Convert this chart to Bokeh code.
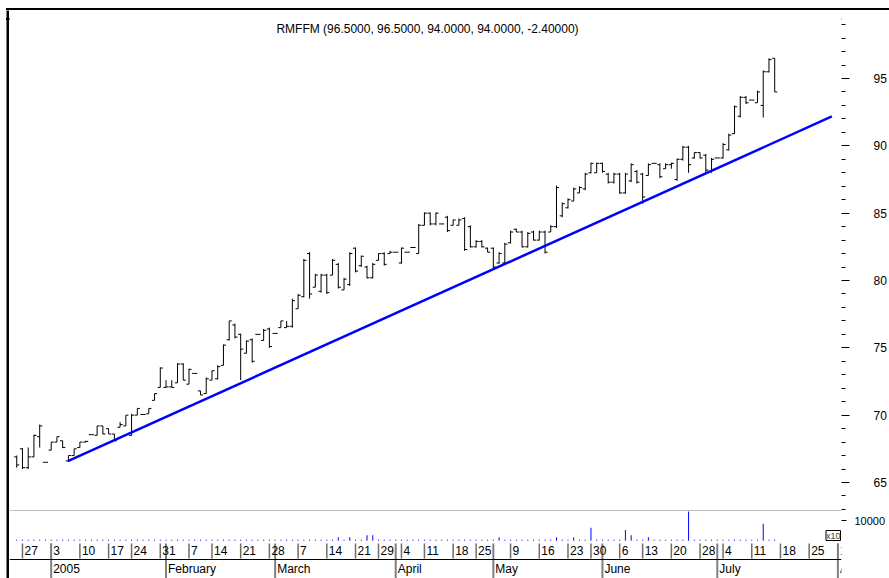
from bokeh.plotting import figure
from bokeh.models import (Range1d, FixedTicker, LinearAxis, Label, Span, ColumnDataSource,
                          Spacer, Div)
from bokeh.layouts import column, row
from bokeh.transform import dodge
from bokeh.core.properties import value
from bokeh.embed import file_html
from bokeh.resources import INLINE

FONT = "Liberation Sans"

# trading-session index (0 = Mon 27 Dec 2004)
session = list(range(-1, 132))

open_ = [66.9, 67.5, 66.1, 66.9, 68.4, 66.5, 67.4, 68.0, 68.1, 66.6,
         67.0, 67.6, 68.0, 68.55, 68.5, 69.2, 69.0, 68.6, 69.1, 69.2,
         68.5, 70.0, 70.05, 70.1, 71.1, 72.06, 72.06, 72.1, 72.4, 73.8,
         72.3, 73.1, 71.8, 71.6, 72.6, 72.7, 73.7, 75.6, 76.7, 76.0,
         74.6, 75.6, 76.0, 75.55, 76.4, 76.07, 76.5, 76.5, 76.6, 77.9,
         78.8, 82.0, 79.5, 79.2, 80.4, 80.4, 81.2, 79.3, 79.7, 82.4,
         81.1, 81.0, 80.2, 81.5, 82.0, 82.0, 82.1, 81.3, 82.1, 82.45,
         82.0, 84.1, 85.0, 84.2, 84.2, 84.7, 84.1, 84.1, 84.6, 84.0,
         82.5, 82.9, 82.4, 82.4, 81.3, 81.3, 82.8, 83.8, 83.6, 82.5,
         83.6, 83.0, 83.6, 83.6, 84.0, 84.8, 85.4, 85.9, 86.5, 86.8,
         88.0, 88.0, 88.7, 87.9, 87.3, 87.9, 86.5, 87.4, 88.1, 87.9,
         87.8, 88.7, 88.6, 88.3, 88.6, 87.5, 89.0, 89.9, 89.1, 89.5,
         89.3, 88.1, 89.1, 89.1, 89.7, 90.9, 92.2, 93.6, 93.4, 93.2,
         93.0, 95.5, 96.5]
high = [67.0, 67.55, 67.6, 68.55, 69.3, 66.5, 68.0, 68.4, 68.1, 67.0,
        67.5, 68.0, 68.1, 68.55, 69.2, 69.2, 69.0, 68.6, 69.5, 70.0,
        70.1, 70.5, 70.05, 70.5, 71.6, 73.55, 72.6, 72.6, 73.85, 73.85,
        73.45, 73.1, 71.8, 72.8, 73.3, 73.7, 75.25, 77.0, 76.8, 76.05,
        75.55, 75.7, 76.0, 76.4, 76.5, 76.07, 77.0, 77.0, 78.65, 79.0,
        81.6, 82.1, 80.5, 80.5, 80.5, 81.6, 81.3, 80.2, 82.1, 82.45,
        81.85, 81.1, 81.3, 82.0, 82.1, 82.2, 82.1, 82.45, 82.1, 82.45,
        84.2, 85.05, 85.05, 85.05, 84.2, 84.8, 84.5, 84.6, 84.7, 84.1,
        83.0, 83.0, 82.45, 82.45, 82.1, 82.8, 83.7, 83.85, 83.7, 83.6,
        83.7, 83.7, 83.7, 84.1, 87.05, 85.8, 86.1, 86.9, 87.0, 88.0,
        88.75, 88.75, 88.75, 88.0, 88.0, 88.0, 88.0, 88.7, 88.2, 88.0,
        88.7, 88.7, 88.7, 88.7, 88.75, 89.06, 90.0, 90.0, 89.5, 89.5,
        89.4, 89.1, 89.1, 90.2, 90.9, 93.0, 93.7, 93.7, 93.4, 94.1,
        95.6, 96.5, 96.5]
low = [66.1, 66.0, 66.0, 66.9, 67.6, 66.5, 67.4, 68.0, 67.55, 66.55,
       67.0, 67.6, 68.0, 68.55, 68.5, 68.6, 68.6, 68.1, 69.1, 69.2,
       68.5, 70.0, 70.05, 70.1, 71.1, 72.06, 72.06, 72.06, 72.4, 72.6,
       72.3, 73.1, 71.5, 71.6, 72.6, 72.65, 73.7, 75.55, 75.7, 72.6,
       74.6, 73.9, 76.0, 75.55, 75.0, 76.07, 76.5, 76.5, 76.5, 77.9,
       78.75, 78.65, 79.5, 79.1, 79.0, 80.4, 79.4, 79.3, 79.6, 80.6,
       81.0, 80.15, 80.15, 81.5, 81.1, 82.0, 82.1, 81.25, 82.1, 82.45,
       82.0, 84.1, 84.1, 84.1, 84.2, 83.6, 84.1, 84.1, 82.2, 82.45,
       82.45, 82.45, 82.1, 80.9, 81.25, 81.25, 82.75, 83.6, 82.45, 82.45,
       82.97, 82.97, 82.0, 83.6, 83.9, 84.7, 85.35, 85.9, 86.5, 86.7,
       87.95, 88.0, 88.0, 87.2, 87.2, 86.45, 86.45, 87.3, 87.2, 85.7,
       87.8, 88.7, 87.6, 88.3, 88.3, 87.4, 88.9, 88.0, 89.06, 89.06,
       88.0, 88.0, 89.1, 89.06, 89.65, 90.9, 92.1, 93.1, 93.4, 93.2,
       92.1, 95.45, 94.0]
close = [66.3, 66.1, 66.9, 68.5, 69.2, 66.5, 68.0, 68.4, 67.6, 67.0,
         67.5, 68.0, 68.05, 68.55, 69.2, 68.6, 68.6, 68.1, 69.3, 70.0,
         70.0, 70.5, 70.05, 70.5, 71.6, 73.5, 72.1, 72.06, 73.8, 72.6,
         73.4, 73.1, 71.5, 72.7, 73.3, 73.6, 75.2, 77.0, 75.8, 74.9,
         75.5, 74.0, 76.0, 76.3, 75.1, 76.07, 77.0, 76.6, 78.5, 78.9,
         81.5, 79.0, 80.4, 80.4, 79.1, 81.5, 79.5, 80.1, 82.0, 80.7,
         81.8, 80.2, 81.2, 82.0, 81.2, 82.1, 82.1, 82.4, 82.1, 82.45,
         84.1, 85.0, 84.2, 85.0, 84.2, 83.7, 84.5, 84.5, 82.3, 82.5,
         82.9, 82.5, 82.1, 81.0, 82.0, 82.7, 83.6, 83.6, 82.5, 83.5,
         83.0, 83.6, 82.1, 84.0, 86.9, 85.7, 86.0, 86.8, 86.9, 87.9,
         88.7, 88.7, 88.1, 87.3, 87.9, 86.5, 87.9, 88.6, 87.3, 86.2,
         88.6, 88.7, 87.7, 88.6, 88.7, 89.0, 89.9, 88.6, 89.5, 89.1,
         88.2, 89.0, 89.1, 90.1, 90.8, 92.9, 93.6, 93.2, 93.4, 94.0,
         95.5, 96.4, 94.0]
volume = [500, 500, 500, 500, 500, 500, 500, 500, 500, 500,
          500, 500, 500, 500, 500, 500, 500, 500, 500, 500,
          500, 500, 500, 500, 500, 500, 500, 500, 500, 500,
          500, 500, 500, 500, 500, 500, 500, 500, 500, 500,
          500, 500, 500, 500, 500, 500, 500, 500, 500, 500,
          500, 500, 500, 500, 500, 500, 1700, 500, 1700, 500,
          500, 2700, 2700, 500, 500, 500, 500, 500, 500, 500,
          500, 500, 500, 500, 500, 500, 500, 500, 500, 500,
          500, 500, 500, 500, 1700, 500, 500, 500, 500, 500,
          500, 500, 500, 500, 1700, 500, 500, 1700, 500, 500,
          6400, 500, 500, 500, 500, 500, 5300, 2700, 500, 500,
          1700, 500, 500, 500, 500, 500, 500, 14500, 500, 500,
          500, 500, 500, 500, 500, 500, 500, 500, 500, 500,
          8400, 500, 500]

trend_x = [7.9, 140.95]
trend_y = [66.58, 92.18]

price_ticks = [65, 70, 75, 80, 85, 90, 95]
price_minor = [63, 64, 66, 67, 68, 69, 71, 72, 73, 74, 76, 77, 78, 79, 81, 82, 83, 84,
               86, 87, 88, 89, 91, 92, 93, 94, 96, 97, 98, 99]
volume_ticks = [10000]

day_ticks = [0, 5, 10, 15, 19, 24, 29, 33, 38, 43, 48, 53, 58, 62, 66, 70, 75, 79,
             85, 90, 95, 99, 104, 108, 113, 118, 122, 127, 132, 137, 142]
day_labels = ["27", "3", "10", "17", "24", "31", "7", "14", "21", "28", "7", "14",
              "21", "29", "4", "11", "18", "25", "9", "16", "23", "30", "6", "13",
              "20", "28", "4", "11", "18", "25", "1"]
month_ticks = [5, 25, 44, 65, 82, 101, 121, 142]
month_labels = ["2005", "February", "March", "April", "May", "June", "July", "August"]

title_text = "RMFFM (96.5000, 96.5000, 94.0000, 94.0000, -2.40000)"

W = 880            # chart figures: page x 9 .. 889
RB = 46            # right border (axis area); frame right at page x 843
xr = Range1d(-2.258, 142.63)


def base(height, yr, width=W, rb=RB):
    f = figure(width=width, height=height, x_range=xr, y_range=yr, output_backend="svg",
               toolbar_location=None, min_border_left=0, min_border_right=rb,
               min_border_top=0, min_border_bottom=0,
               x_axis_location=None, y_axis_location=None)
    f.outline_line_color = None
    f.grid.visible = False
    f.background_fill_color = "white"
    f.border_fill_color = "white"
    return f


def rule(width, height):
    f = figure(width=width, height=height, output_backend="svg", toolbar_location=None,
               min_border=0, x_axis_location=None, y_axis_location=None,
               title_location=None)
    f.outline_line_color = None
    f.grid.visible = False
    f.background_fill_color = "black"
    f.border_fill_color = "black"
    return f


# ---- price panel
p = base(500, Range1d(62.92, 100.05))
src = ColumnDataSource(dict(x=session, o=open_, h=high, l=low, c=close))
p.segment(x0="x", y0="l", x1="x", y1="h", source=src, line_color="black", line_width=1)
p.segment(x0=dodge("x", -0.45, range=xr), y0="o", x1="x", y1="o", source=src,
          line_color="black", line_width=1)
p.segment(x0="x", y0="c", x1=dodge("x", 0.45, range=xr), y1="c", source=src,
          line_color="black", line_width=1)
p.line(trend_x, trend_y, line_color="#0000ff", line_width=2.5)

ya = LinearAxis(ticker=FixedTicker(ticks=price_ticks, minor_ticks=price_minor),
                axis_line_color=None, major_tick_out=8, major_tick_in=0,
                minor_tick_out=4, minor_tick_in=0, major_tick_line_color="black",
                minor_tick_line_color="black", major_label_standoff=24,
                major_label_text_font=FONT, major_label_text_font_size="12px",
                major_label_text_color="black")
p.add_layout(ya, "right")
p.add_layout(Label(x=(xr.start + xr.end) / 2, y=p.y_range.end, x_offset=2, y_offset=-18,
                   text=title_text, text_align="center", text_baseline="middle",
                   text_font=FONT, text_font_size="12px", text_color="black"))

# ---- volume panel
pv = base(31, Range1d(-400, 15000))
vsrc = ColumnDataSource(dict(x=session, v=volume))
pv.segment(x0="x", y0=0, x1="x", y1="v", source=vsrc, line_color="#0000ff", line_width=1)
va = LinearAxis(ticker=FixedTicker(ticks=volume_ticks), axis_line_color=None,
                major_tick_out=5, major_tick_in=0, major_tick_line_color="black",
                major_label_standoff=8, major_label_text_font=FONT,
                major_label_text_font_size="11px", major_label_text_color="black")
pv.add_layout(va, "right")
pv.add_layout(Span(location=pv.y_range.end, dimension="width", line_color="#808080",
                   line_width=1))
pv.add_layout(Label(x=xr.end, y=pv.y_range.start, x_offset=-1, y_offset=1, text="x10",
                    text_font=FONT, text_font_size="9px", text_baseline="bottom",
                    text_align="right", border_line_color="black",
                    background_fill_color="white"))

# ---- date axis rows (y in pixels from the bottom of this strip)
pa = base(37, Range1d(0, 37))
pa.segment(x0=day_ticks, y0=20, x1=day_ticks, y1=35, line_color="#6e6e6e", line_width=1.5)
pa.segment(x0=month_ticks, y0=0, x1=month_ticks, y1=35, line_color="#808080", line_width=2)
pa.add_layout(Span(location=19, dimension="width", line_color="black", line_width=1.2))
pa.text(x=day_ticks, y=28, text=day_labels, text_align="left", text_baseline="middle",
        x_offset=2, text_font=value(FONT), text_font_size="12px", text_color="black")
pa.text(x=month_ticks, y=10, text=month_labels, text_align="left", text_baseline="middle",
        x_offset=2, text_font=value(FONT), text_font_size="12px", text_color="black")

charts = column(p, pv, pa, spacing=0)
top_rule = Div(width=883, height=2, margin=0,
               styles={"background-color": "#000000"},
               text='<div style="width:883px;height:2px;margin:0;padding:0;'
                    'background-color:#000000"></div>')
left_bar = rule(3, 568)            # black rule at page x 6..9, y 10..578

layout = row(Spacer(width=6),
             column(Spacer(height=8), top_rule, row(left_bar, charts, spacing=0),
                    spacing=0),
             spacing=0)

open("out.html", "w").write(file_html(layout, INLINE))
